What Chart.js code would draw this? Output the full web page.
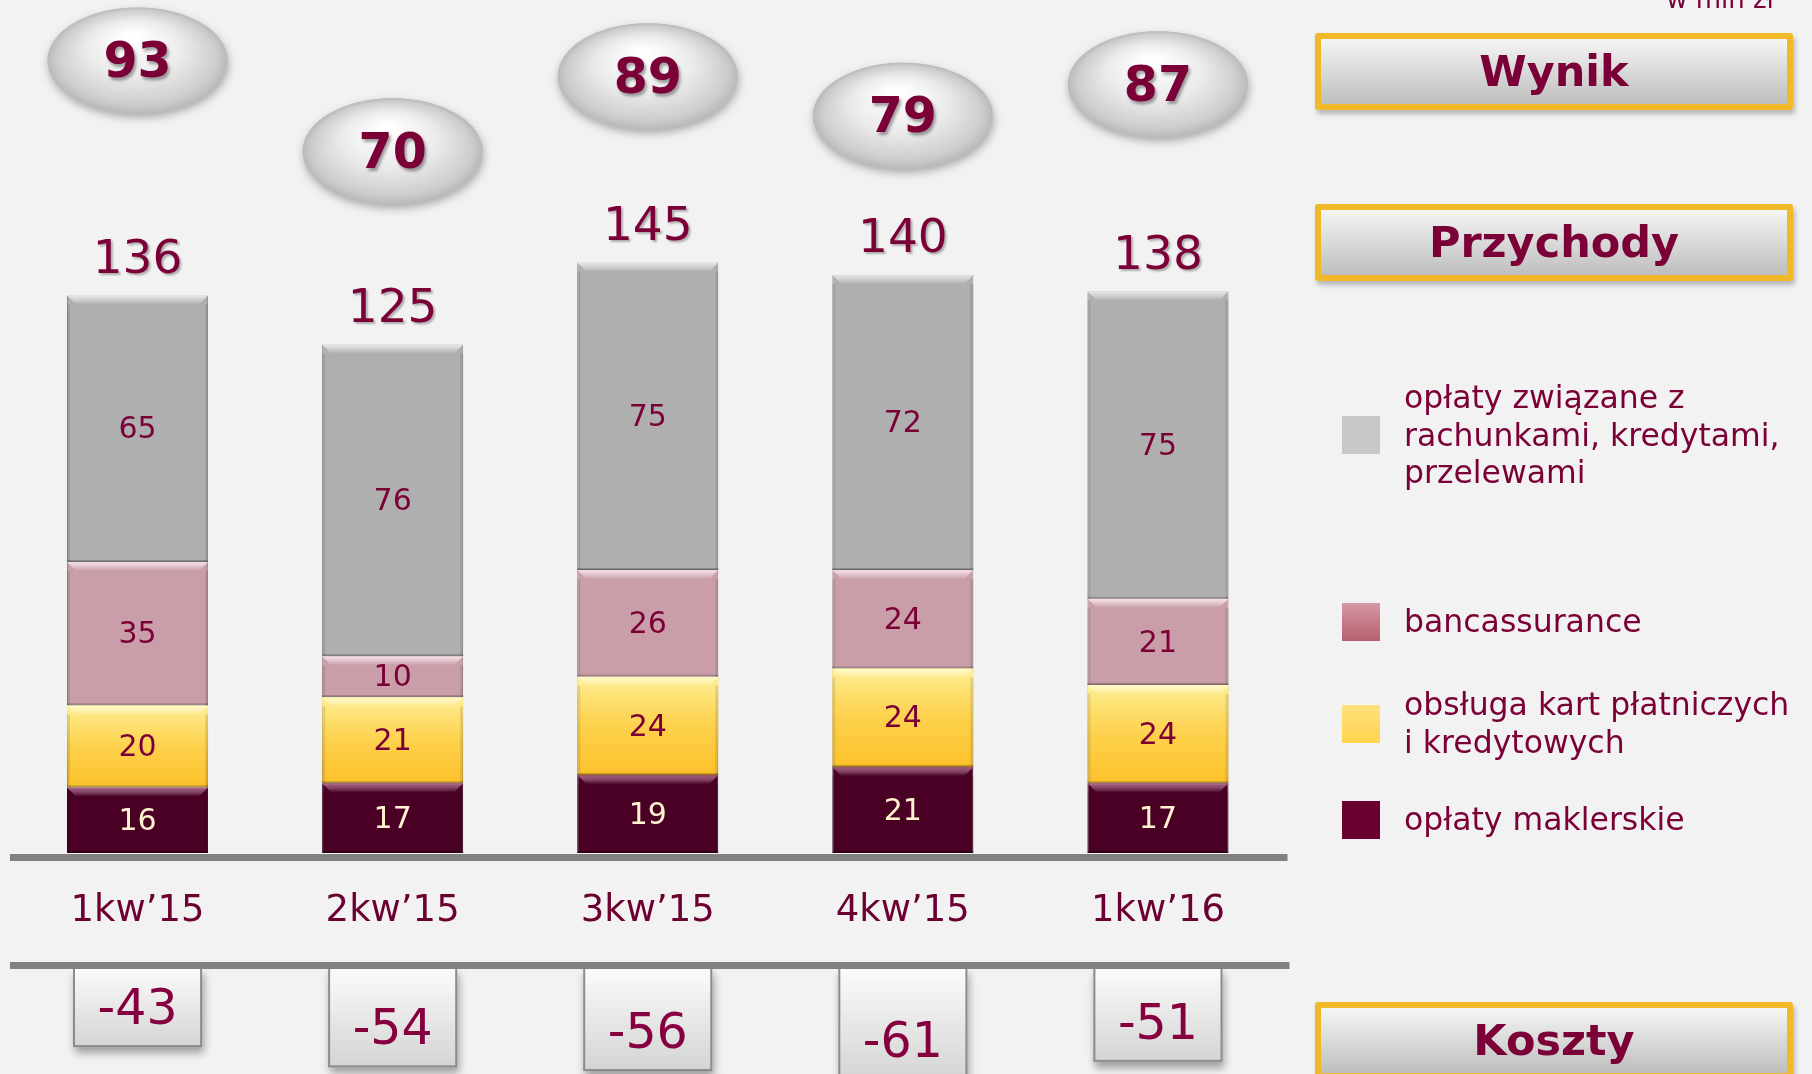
<!DOCTYPE html>
<html lang="pl">
<head>
<meta charset="utf-8">
<title>Przychody prowizyjne</title>
<script src="https://cdn.jsdelivr.net/npm/chart.js@4.4.1/dist/chart.umd.min.js"></script>
<style>
    html, body { margin: 0; padding: 0; }
    body {
        width: 1812px; height: 1074px; overflow: hidden; position: relative;
        background: #f2f2f2;
        font-family: "DejaVu Sans", Verdana, sans-serif;
        color: #7a0037;
    }
    #chart { position: absolute; left: 0; top: 0; }
    .unit {
        position: absolute; right: 38px; top: -14px;
        font-size: 26px; line-height: 26px;
    }
    .title-box {
        position: absolute; left: 1315px; width: 478px; height: 77px;
        box-sizing: border-box; border: 6px solid #f1b929; border-radius: 3px;
        background: linear-gradient(#f5f5f5, #bebebe);
        box-shadow: 2px 4px 5px rgba(0, 0, 0, 0.25);
        font-weight: bold; font-size: 43px; line-height: 65px; text-align: center;
    }
    .legend-item { position: absolute; left: 1342px; display: flex; align-items: center; }
    .legend-item .sw { width: 38px; height: 38px; margin-right: 24px; flex: none; }
    .legend-item .tx { font-size: 31.5px; line-height: 37.5px; white-space: pre-line; }
</style>
</head>
<body>
<canvas id="chart" width="1812" height="1074"></canvas>
<div class="unit">w mln zł</div>
<div class="title-box" style="top:33px">Wynik</div>
<div class="title-box" style="top:204px">Przychody</div>
<div class="title-box" style="top:1002px">Koszty</div>
<div id="legend"></div>

<script>
// Data (w mln zł)
const categories = ['1kw\u201915', '2kw\u201915', '3kw\u201915', '4kw\u201915', '1kw\u201916'];
const oplatyMaklerskie = [16, 17, 19, 21, 17];
const obslugaKart = [20, 21, 24, 24, 24];
const bancassurance = [35, 10, 26, 24, 21];
const oplatyRachunki = [65, 76, 75, 72, 75];
const przychody = [136, 125, 145, 140, 138];
const wynik = [93, 70, 89, 79, 87];
const koszty = [-43, -54, -56, -61, -51];
const seriesLabels = [
    'opłaty maklerskie',
    'obsługa kart płatniczych\ni kredytowych',
    'bancassurance',
    'opłaty związane z\nrachunkami, kredytami,\nprzelewami'
];

const FONT = '"DejaVu Sans", Verdana, sans-serif';
const MAROON = '#7a0037';
const legendTops = [801, 686, 603, 379];

const revenueStyles = [
    { fill: '#4a0024', border: '#36001a', text: '#fff3cf', bevel: 'rgba(190,110,150,0.75)', swatch: '#6b0030' },
    { fill: '#fcc12a', border: '#c9961c', text: MAROON, bevel: 'rgba(255,250,200,0.9)', swatch: 'linear-gradient(#ffe07c, #ffd54e)', glow: true },
    { fill: '#c99ea8', border: '#a07e86', text: MAROON, bevel: 'rgba(255,230,238,0.9)', swatch: 'linear-gradient(#d797a5, #b65f6e)' },
    { fill: '#afafaf', border: '#8d8d8d', text: MAROON, bevel: 'rgba(235,235,235,0.9)', swatch: '#c8c8c8' }
];

const revenueData = [oplatyMaklerskie, obslugaKart, bancassurance, oplatyRachunki];

const datasets = revenueData.map((values, i) => ({
    type: 'bar',
    label: seriesLabels[i],
    data: values,
    stack: 'przychody',
    yAxisID: 'y',
    backgroundColor: revenueStyles[i].fill,
    borderColor: revenueStyles[i].border,
    borderWidth: 1,
    borderSkipped: false,
    barPercentage: 0.553,
    categoryPercentage: 1
}));

datasets.push({
    type: 'line',
    label: 'Wynik',
    data: wynik,
    yAxisID: 'yW',
    showLine: false,
    pointRadius: 0,
    pointHoverRadius: 0
});

datasets.push({
    type: 'bar',
    label: 'Koszty',
    data: koszty,
    yAxisID: 'yC',
    grouped: false,
    clip: false,
    backgroundColor: '#e4e4e4',
    borderColor: '#8c8c8c',
    borderWidth: 2,
    barPercentage: 0.506,
    categoryPercentage: 1
});

function withShadow(ctx, color, ox, oy, blur, fn) {
    ctx.save();
    ctx.shadowColor = color;
    ctx.shadowOffsetX = ox;
    ctx.shadowOffsetY = oy;
    ctx.shadowBlur = blur;
    fn();
    ctx.restore();
}

function drawBevel(ctx, left, top, w, h, style) {
    const b = Math.min(9, h / 3);
    if (style.glow) {
        const g = ctx.createLinearGradient(0, top, 0, top + h);
        g.addColorStop(0, 'rgba(255,243,160,0.95)');
        g.addColorStop(0.55, 'rgba(255,225,110,0.45)');
        g.addColorStop(1, 'rgba(255,225,110,0)');
        ctx.fillStyle = g;
        ctx.fillRect(left, top, w, h);
    }
    // top bevel
    const tg = ctx.createLinearGradient(0, top, 0, top + b);
    tg.addColorStop(0, style.bevel);
    tg.addColorStop(1, 'rgba(255,255,255,0)');
    ctx.fillStyle = tg;
    ctx.beginPath();
    ctx.moveTo(left, top);
    ctx.lineTo(left + w, top);
    ctx.lineTo(left + w - b, top + b);
    ctx.lineTo(left + b, top + b);
    ctx.closePath();
    ctx.fill();
    // side and bottom shading
    ctx.fillStyle = 'rgba(0,0,0,0.10)';
    ctx.fillRect(left, top + b, 3, h - b);
    ctx.fillRect(left + w - 3, top + b, 3, h - b);
    ctx.fillStyle = 'rgba(0,0,0,0.22)';
    ctx.fillRect(left, top + h - 2, w, 2);
}

const slideDecor = {
    id: 'slideDecor',
    afterDatasetsDraw(chart) {
        const ctx = chart.ctx;
        const area = chart.chartArea;

        // Revenue stacks: bevels and segment values
        revenueData.forEach((values, di) => {
            const meta = chart.getDatasetMeta(di);
            meta.data.forEach((bar, i) => {
                const p = bar.getProps(['x', 'y', 'base', 'width'], true);
                const left = p.x - p.width / 2;
                const top = Math.min(p.y, p.base);
                const h = Math.abs(p.base - p.y);
                drawBevel(ctx, left, top, p.width, h, revenueStyles[di]);
                ctx.save();
                ctx.font = '30px ' + FONT;
                ctx.textAlign = 'center';
                ctx.textBaseline = 'middle';
                ctx.fillStyle = revenueStyles[di].text;
                ctx.fillText(String(values[i]), p.x, top + h / 2 + 2);
                ctx.restore();
            });
        });

        // Totals above each stack
        const topMeta = chart.getDatasetMeta(revenueData.length - 1);
        topMeta.data.forEach((bar, i) => {
            withShadow(ctx, 'rgba(0,0,0,0.28)', 2, 2, 2, () => {
                ctx.font = '47px ' + FONT;
                ctx.textAlign = 'center';
                ctx.textBaseline = 'middle';
                ctx.fillStyle = MAROON;
                ctx.fillText(String(przychody[i]), bar.x, bar.y - 35);
            });
        });

        // Cost boxes hanging below the second line
        const costMeta = chart.getDatasetMeta(datasets.length - 1);
        costMeta.data.forEach((bar, i) => {
            const p = bar.getProps(['x', 'y', 'base', 'width'], true);
            const left = p.x - p.width / 2;
            const top = Math.min(p.y, p.base);
            const h = Math.abs(p.base - p.y);
            const g = ctx.createLinearGradient(0, top, 0, top + h);
            g.addColorStop(0, '#fbfbfb');
            g.addColorStop(1, '#d4d4d4');
            withShadow(ctx, 'rgba(0,0,0,0.35)', 2, 6, 8, () => {
                ctx.fillStyle = g;
                ctx.fillRect(left, top, p.width, h);
            });
            ctx.strokeStyle = '#8c8c8c';
            ctx.lineWidth = 2;
            ctx.strokeRect(left + 1, top, p.width - 2, h - 1);
            ctx.save();
            ctx.font = '49px ' + FONT;
            ctx.textAlign = 'center';
            ctx.textBaseline = 'middle';
            ctx.fillStyle = '#860040';
            ctx.fillText(String(koszty[i]), p.x, p.y - 36);
            ctx.restore();
        });

        // Two grey rules framing the quarter labels
        ctx.fillStyle = '#808080';
        ctx.fillRect(area.left, area.bottom + 1, area.right - area.left + 2, 7);
        ctx.fillRect(area.left, area.bottom + 109, area.right - area.left + 4, 7);

        // Wynik ovals
        const wMeta = chart.getDatasetMeta(revenueData.length);
        wMeta.data.forEach((pt, i) => {
            const rx = 90, ry = 53;
            withShadow(ctx, 'rgba(0,0,0,0.30)', 1, 4, 8, () => {
                ctx.fillStyle = '#c4c4c4';
                ctx.beginPath();
                ctx.ellipse(pt.x, pt.y, rx, ry, 0, 0, Math.PI * 2);
                ctx.fill();
            });
            ctx.save();
            ctx.translate(pt.x, pt.y);
            ctx.scale(1, ry / rx);
            const g = ctx.createRadialGradient(-6, -rx * 0.45, 6, 0, 0, rx);
            g.addColorStop(0, '#ffffff');
            g.addColorStop(0.5, '#ebebeb');
            g.addColorStop(0.88, '#cdcdcd');
            g.addColorStop(1, '#b9b9b9');
            ctx.fillStyle = g;
            ctx.beginPath();
            ctx.arc(0, 0, rx, 0, Math.PI * 2);
            ctx.fill();
            ctx.restore();
            withShadow(ctx, 'rgba(0,0,0,0.35)', 2, 3, 3, () => {
                ctx.font = 'bold 49px ' + FONT;
                ctx.textAlign = 'center';
                ctx.textBaseline = 'middle';
                ctx.fillStyle = MAROON;
                ctx.fillText(String(wynik[i]), pt.x, pt.y + 4);
            });
        });
    }
};

const chart = new Chart(document.getElementById('chart'), {
    data: { labels: categories, datasets: datasets },
    options: {
        responsive: false,
        animation: false,
        devicePixelRatio: 1,
        layout: { padding: { left: 10, right: 526.5, top: 0, bottom: 0 } },
        plugins: {
            legend: { display: false },
            tooltip: { enabled: false }
        },
        scales: {
            x: {
                stacked: true,
                grid: { display: false, drawTicks: false },
                border: { display: false },
                ticks: {
                    color: '#6d0032',
                    font: { family: FONT, size: 37 },
                    padding: 36,
                    maxRotation: 0,
                    autoSkip: false
                },
                afterFit(scale) { scale.height = 221; }
            },
            y: { display: false, stacked: true, min: 0, max: 208.05 },
            yW: { display: false, min: -107.6, max: 108.3 },
            yC: { display: false, min: 62.5, max: 526.1 }
        }
    },
    plugins: [slideDecor]
});

// Legend built from the revenue datasets, top segment first
const legend = document.getElementById('legend');
revenueData.forEach((_, i) => {
    const item = document.createElement('div');
    item.className = 'legend-item';
    item.style.top = legendTops[i] + 'px';
    const sw = document.createElement('div');
    sw.className = 'sw';
    sw.style.background = revenueStyles[i].swatch;
    const tx = document.createElement('div');
    tx.className = 'tx';
    tx.textContent = chart.data.datasets[i].label;
    item.appendChild(sw);
    item.appendChild(tx);
    legend.appendChild(item);
});
</script>
</body>
</html>
